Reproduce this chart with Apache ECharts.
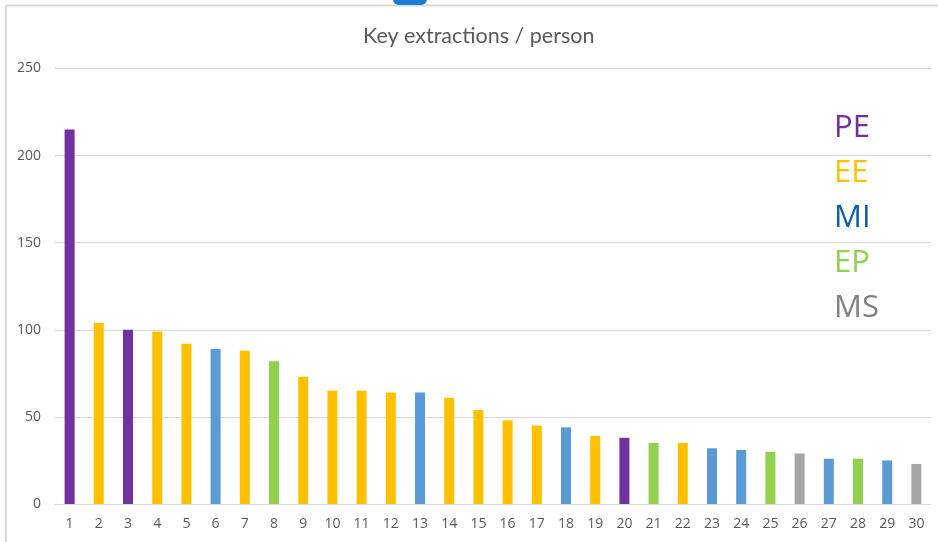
<!DOCTYPE html>
<html>
<head>
<meta charset="utf-8">
<script src="https://cdn.jsdelivr.net/npm/echarts@6/dist/echarts.min.js"></script>
<style>
  html, body { margin: 0; padding: 0; background: #fff; }
  #chart { width: 938px; height: 542px; }
</style>
</head>
<body>
<div id="chart"></div>
<script>
// People ranked by key extractions, coloured by department
const categories = ['1','2','3','4','5','6','7','8','9','10','11','12','13','14','15',
                    '16','17','18','19','20','21','22','23','24','25','26','27','28','29','30'];
const values = [215, 104, 100, 99, 92, 89, 88, 82, 73, 65, 65, 64, 64, 61, 54,
                48, 45, 44, 39, 38, 35, 35, 32, 31, 30, 29, 26, 26, 25, 23];
const departments = ['PE','EE','PE','EE','EE','MI','EE','EP','EE','EE','EE','EE','MI','EE','EE',
                     'EE','EE','MI','EE','PE','EP','EE','MI','MI','EP','MS','MI','EP','MI','MS'];
const legendNames = ['PE', 'EE', 'MI', 'EP', 'MS'];
const yTicks = [0, 50, 100, 150, 200, 250];

const barColors = { PE: '#7030A0', EE: '#FFC000', MI: '#5B9BD5', EP: '#92D050', MS: '#A5A5A5' };
const textColors = { PE: '#7030A0', EE: '#FFC000', MI: '#0B5CAB', EP: '#92D050', MS: '#808080' };

const chart = echarts.init(document.getElementById('chart'), null, { renderer: 'canvas' });

const legendText = legendNames.map((name, i) => ({
  type: 'text',
  left: 834,
  top: 113 + i * 45,
  style: {
    text: name,
    fill: textColors[name],
    font: '31px "Open Sans", sans-serif'
  }
}));

chart.setOption({
  animation: false,
  backgroundColor: '#ffffff',
  title: {
    text: 'Key extractions / person',
    left: 358,
    top: 20,
    textStyle: { color: '#595959', fontSize: 21.5, fontWeight: 'normal', fontFamily: 'Lato, sans-serif' }
  },
  grid: { left: 55, right: 7, top: 68.5, bottom: 38, containLabel: false },
  xAxis: {
    type: 'category',
    data: categories,
    axisLine: { show: true, lineStyle: { color: '#D9D9D9', width: 1 } },
    axisTick: { show: false },
    axisLabel: { color: '#595959', fontSize: 14, fontFamily: '"Open Sans", sans-serif', margin: 13, interval: 0 }
  },
  yAxis: {
    type: 'value',
    min: yTicks[0],
    max: yTicks[yTicks.length - 1],
    interval: 50,
    axisLine: { show: false },
    axisTick: { show: false },
    splitLine: { lineStyle: { color: '#D9D9D9', width: 1 } },
    axisLabel: { color: '#595959', fontSize: 14, fontFamily: '"Open Sans", sans-serif', margin: 14 }
  },
  series: [{
    type: 'bar',
    barWidth: 10,
    data: values.map((v, i) => ({ value: v, itemStyle: { color: barColors[departments[i]] } }))
  }],
  graphic: [
    // chart frame edges
    { type: 'line', shape: { x1: 6, y1: 5.5, x2: 938, y2: 5.5 }, style: { stroke: '#D9D9D9', lineWidth: 2 } },
    { type: 'line', shape: { x1: 6, y1: 5, x2: 6, y2: 542 }, style: { stroke: '#D9D9D9', lineWidth: 2 } },
    // selection handle at the top edge
    { type: 'rect', shape: { x: 393, y: -8, width: 34, height: 13, r: 6 }, style: { fill: '#1C7CD5' } }
  ].concat(legendText)
});
</script>
</body>
</html>
